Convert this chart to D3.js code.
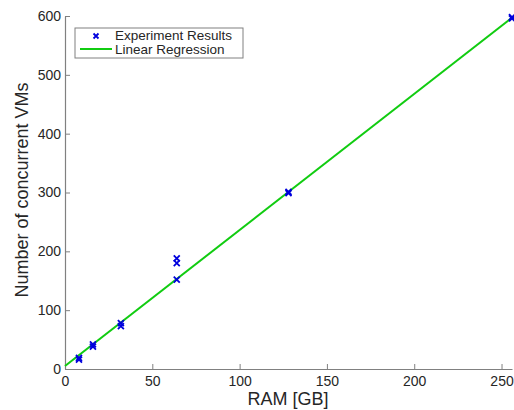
<!DOCTYPE html>
<html>
<head>
<meta charset="utf-8">
<script src="https://cdn.jsdelivr.net/npm/d3@7"></script>
<style>
  body { margin: 0; background: #fff; }
  text { font-family: "Liberation Sans", Arial, sans-serif; fill: #262626; }
</style>
</head>
<body>
<div id="chart"></div>
<script>
// Measured points (RAM in GB, concurrent VMs)
var ramGB = [8, 8, 16, 16, 32, 32, 64, 64, 64, 128, 128, 256, 256];
var vmCount = [16, 19, 38, 42, 73, 78, 152, 180, 188, 299, 301, 596, 598];

// Regression line endpoints
var fitX = [0, 256];
var fitY = [5, 597];

var xTicks = [0, 50, 100, 150, 200, 250];
var yTicks = [0, 100, 200, 300, 400, 500, 600];

var legendLabels = ['Experiment Results', 'Linear Regression'];

var W = 514, H = 410,
    margin = {top: 16, right: 2, bottom: 41, left: 65},
    width = W - margin.left - margin.right,
    height = H - margin.top - margin.bottom;

var svg = d3.select('#chart').append('svg')
    .attr('width', W)
    .attr('height', H)
  .append('g')
    .attr('transform', 'translate(' + margin.left + ',' + margin.top + ')');

var x = d3.scaleLinear().domain([0, 256]).range([0, width]),
    y = d3.scaleLinear().domain([0, 600]).range([height, 0]);

// Axes, ticks pointing inward like MATLAB
var xAxis = svg.append('g')
    .attr('transform', 'translate(0,' + height + ')')
    .call(d3.axisBottom(x).tickValues(xTicks).tickSizeInner(-5).tickSizeOuter(0).tickPadding(4));
var yAxis = svg.append('g')
    .call(d3.axisLeft(y).tickValues(yTicks).tickSizeInner(-5).tickSizeOuter(0).tickPadding(4));

[xAxis, yAxis].forEach(function (a) {
  a.select('.domain').attr('stroke', '#808080').attr('stroke-width', 1.2);
  a.selectAll('.tick line').attr('stroke', '#808080');
  a.selectAll('.tick text').attr('fill', '#262626').style('font-size', '14px');
});
xAxis.selectAll('.tick text').attr('dy', '0.9em');

// Axis labels
svg.append('text')
    .attr('x', 223)
    .attr('y', height + 36)
    .attr('text-anchor', 'middle')
    .style('font-size', '18px')
    .text('RAM [GB]');

svg.append('text')
    .attr('transform', 'rotate(-90)')
    .attr('x', -174)
    .attr('y', -37)
    .attr('text-anchor', 'middle')
    .style('font-size', '18px')
    .text('Number of concurrent VMs');

// Regression line
svg.append('path')
    .datum(d3.zip(fitX, fitY))
    .attr('fill', 'none')
    .attr('stroke', '#11cc11')
    .attr('stroke-width', 2)
    .attr('d', d3.line().x(function (d) { return x(d[0]); }).y(function (d) { return y(d[1]); }));

// Cross markers
function cross(sel, s) {
  sel.append('path')
    .attr('d', 'M' + (-s) + ',' + (-s) + 'L' + s + ',' + s + 'M' + (-s) + ',' + s + 'L' + s + ',' + (-s))
    .attr('stroke', '#0000dd')
    .attr('stroke-width', 1.8)
    .attr('fill', 'none');
}

svg.selectAll('g.pt')
    .data(d3.zip(ramGB, vmCount))
  .enter().append('g')
    .attr('class', 'pt')
    .attr('transform', function (d) { return 'translate(' + x(d[0]) + ',' + y(d[1]) + ')'; })
    .each(function () { cross(d3.select(this), 3); });

// Legend
var lg = svg.append('g').attr('transform', 'translate(10,12)');
lg.append('rect')
    .attr('width', 168)
    .attr('height', 30)
    .attr('fill', '#fff')
    .attr('stroke', '#808080');
cross(lg.append('g').attr('transform', 'translate(21,8)'), 2.5);
lg.append('line')
    .attr('x1', 5).attr('x2', 37).attr('y1', 21).attr('y2', 21)
    .attr('stroke', '#11cc11').attr('stroke-width', 2);
lg.selectAll('text.lab')
    .data(legendLabels)
  .enter().append('text')
    .attr('class', 'lab')
    .attr('x', 40)
    .attr('y', function (d, i) { return 11.5 + i * 14; })
    .style('font-size', '13.5px')
    .text(function (d) { return d; });
</script>
</body>
</html>
